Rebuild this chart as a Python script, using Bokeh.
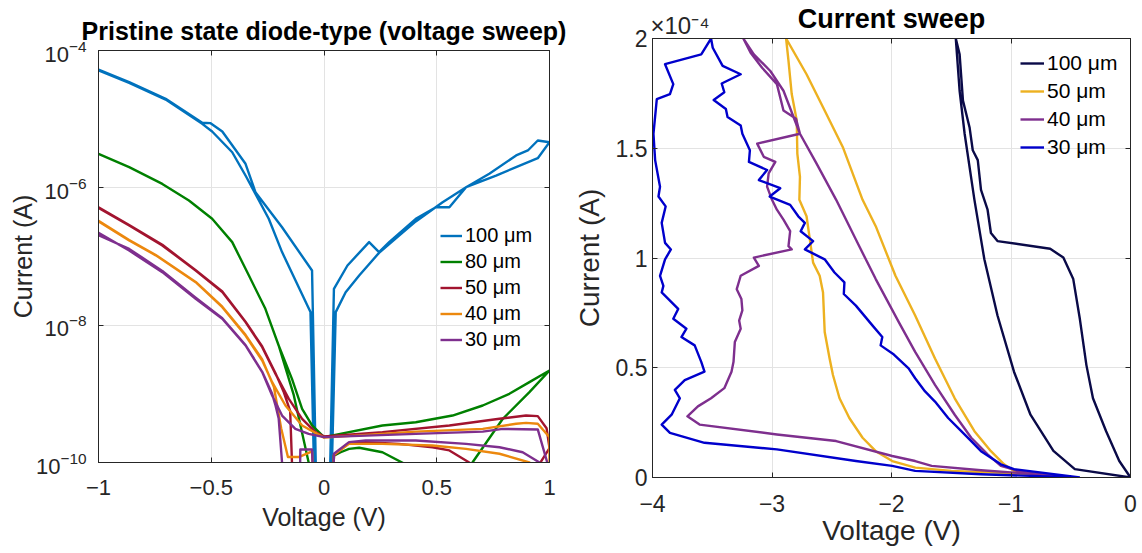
from bokeh.plotting import figure
from bokeh.layouts import row, column
from bokeh.models import (FixedTicker, LogAxis, LinearAxis, Legend, LegendItem,
                          CustomJSTickFormatter, Range1d)
from bokeh.embed import file_html
from bokeh.resources import INLINE

# ---------------- Left panel data (voltage sweep, log current) ----------------
v_100 = [-0.031, -0.060, -0.186, -0.245, -0.304, -0.348, -0.407, -0.496, -0.540, -0.702, -0.864, -1.0,
         -1.0, -0.864, -0.702, -0.540, -0.503, -0.451, -0.348, -0.304, -0.186, -0.053, -0.025,
         0.015, 0.044, 0.104, 0.2, 0.244, 0.289, 0.407, 0.496, 0.556, 0.63, 0.733, 0.852, 0.904, 0.948, 1.0,
         0.948, 0.852, 0.763, 0.63, 0.526, 0.407, 0.333, 0.244, 0.156, 0.096, 0.052, 0.02]
i_100 = [1e-12, 1.55e-8, 1.16e-7, 3.54e-7, 8.18e-7, 1.51e-6, 3.30e-6, 6.61e-6, 8.55e-6, 1.93e-5, 3.38e-5, 5.13e-5,
         5.28e-5, 3.46e-5, 1.98e-5, 8.85e-6, 8.75e-6, 6.61e-6, 2.24e-6, 8.65e-7, 2.67e-7, 6.25e-8, 1e-12,
         1e-12, 3.38e-8, 7.40e-8, 1.62e-7, 1.16e-7, 1.62e-7, 3.54e-7, 5.22e-7, 5.22e-7, 1.02e-6, 1.60e-6, 2.96e-6,
         3.50e-6, 4.89e-6, 4.62e-6,
         2.70e-6, 2.00e-6, 1.51e-6, 1.02e-6, 6.18e-7, 3.24e-7, 2.02e-7, 1.13e-7, 5.28e-8, 3.02e-8, 1.55e-8, 1e-12]

v_80 = [-0.034, -0.068, -0.134, -0.201, -0.260, -0.333, -0.407, -0.496, -0.599, -0.717, -0.864, -1.0,
        -0.864, -0.717, -0.599, -0.496, -0.407, -0.333, -0.260, -0.201, -0.142, -0.097, -0.053, 0.0,
        0.259, 0.407, 0.570, 0.704, 0.822, 0.911, 1.0,
        0.911, 0.793, 0.659, 0.6, 0.45, 0.37, 0.259, 0.156, 0.111, 0.074, 0.044, 0.03]
i_80 = [3.2e-11, 1.0e-10, 9.55e-10, 5.06e-9, 1.73e-8, 5.28e-8, 1.62e-7, 3.54e-7, 6.55e-7, 1.14e-6, 2.0e-6, 3.13e-6,
        2.0e-6, 1.14e-6, 6.55e-7, 3.54e-7, 1.62e-7, 5.28e-8, 1.73e-8, 5.06e-9, 1.65e-9, 6.05e-10, 3.46e-10, 2.34e-10,
        3.46e-10, 3.86e-10, 4.83e-10, 6.76e-10, 1.0e-9, 1.48e-9, 2.19e-9,
        1.06e-9, 4.33e-10, 1.01e-10, 4.0e-11, 5.0e-11, 9.1e-11, 1.41e-10, 1.64e-10, 1.58e-10, 1.41e-10, 1.26e-10, 1e-12]

v_50 = [-0.13, -0.142, -0.150, -0.178, -0.215, -0.274, -0.348, -0.451, -0.569, -0.717, -0.864, -1.0,
        -1.0, -0.864, -0.717, -0.569, -0.451, -0.348, -0.274, -0.215, -0.156, -0.097, -0.038, 0.0,
        0.259, 0.556, 0.778, 0.896, 0.948, 0.987, 1.0,
        0.95, 0.8, 0.7, 0.644, 0.556, 0.481, 0.333, 0.185, 0.104, 0.044, 0.03]
i_50 = [3e-11, 1.0e-10, 5.62e-10, 1.05e-9, 2.0e-9, 4.9e-9, 1.12e-8, 3.09e-8, 6.31e-8, 1.48e-7, 2.88e-7, 5.19e-7,
        5.12e-7, 2.82e-7, 1.45e-7, 6.25e-8, 3.03e-8, 1.11e-8, 4.79e-9, 1.95e-9, 8.45e-10, 4.33e-10, 2.77e-10, 2.40e-10,
        2.77e-10, 3.46e-10, 4.33e-10, 4.83e-10, 4.73e-10, 3.16e-10, 1.62e-10,
        8.9e-11, 3.2e-11, 5e-11, 1.0e-10, 1.50e-10, 1.67e-10, 1.87e-10, 1.98e-10, 1.87e-10, 1.26e-10, 1e-12]

v_40 = [-0.045, -0.053, -0.112, -0.160, -0.190, -0.222, -0.274, -0.348, -0.451, -0.569, -0.746, -0.864, -1.0,
        -1.0, -0.864, -0.746, -0.569, -0.451, -0.348, -0.274, -0.230, -0.171, -0.097, 0.0,
        0.407, 0.704, 0.852, 0.896, 0.948, 1.0, 1.0, 0.95,
        0.911, 0.778, 0.63, 0.481, 0.259, 0.111, 0.044, 0.03]
i_40 = [3e-11, 1.45e-10, 1.20e-10, 1.20e-10, 3.16e-10, 1.26e-9, 3.16e-9, 7.24e-9, 1.86e-8, 4.27e-8, 1.05e-7, 1.74e-7, 3.31e-7,
        3.24e-7, 1.71e-7, 1.04e-7, 4.23e-8, 1.83e-8, 7.08e-9, 3.05e-9, 1.48e-9, 6.76e-10, 3.46e-10, 2.30e-10,
        2.82e-10, 3.09e-10, 3.66e-10, 3.78e-10, 3.66e-10, 2.34e-10, 5e-11, 5e-11,
        1.0e-10, 1.34e-10, 1.58e-10, 1.77e-10, 1.87e-10, 1.87e-10, 1.29e-10, 1e-12]

v_30 = [-0.045, -0.053, -0.105, -0.108, -0.180, -0.186, -0.201, -0.215, -0.230, -0.274, -0.348, -0.451, -0.569,
        -0.717, -0.864, -1.0,
        -1.0, -0.864, -0.717, -0.569, -0.451, -0.348, -0.274, -0.230, -0.186, -0.127, -0.068, 0.0,
        0.407, 0.704, 0.793, 0.948, 0.99, 0.98,
        0.956, 0.881, 0.778, 0.63, 0.407, 0.185, 0.111, 0.044, 0.03]
i_30 = [3e-11, 1.55e-10, 1.55e-10, 3e-11, 3e-11, 1.0e-10, 4.37e-10, 6.76e-10, 1.0e-9, 2.09e-9, 5.13e-9, 1.26e-8, 2.51e-8,
        6.17e-8, 1.29e-7, 2.04e-7,
        2.21e-7, 1.22e-7, 5.92e-8, 2.42e-8, 1.24e-8, 5.06e-9, 2.07e-9, 9.46e-10, 4.83e-10, 3.09e-10, 2.61e-10, 2.34e-10,
        2.61e-10, 2.82e-10, 3.09e-10, 3.03e-10, 1.0e-10, 3e-11,
        1.0e-10, 1.41e-10, 1.67e-10, 1.87e-10, 2.09e-10, 2.09e-10, 1.98e-10, 1.34e-10, 1e-12]

left_labels = ["100 μm", "80 μm", "50 μm", "40 μm", "30 μm"]
left_colors = ["#0072BD", "#008000", "#A2142F", "#EC880E", "#7E2F8E"]
left_x_ticks = [-1, -0.5, 0, 0.5, 1]
left_y_ticks = [1e-10, 1e-8, 1e-6, 1e-4]

# ---------------- Right panel data (current sweep, linear current) ----------------
vc_100 = [0.0, -0.466, -0.645, -0.837, -0.975, -1.113, -1.223, -1.306, -1.388, -1.430, -1.462,
          -1.430, -1.402, -1.347, -1.320, -1.278, -1.251, -1.196, -1.168, -1.113, -0.672, -0.562, -0.479,
          -0.424, -0.369, -0.314, -0.204, -0.094, 0.0]
ic_100 = [0.0, 0.038e-4, 0.121e-4, 0.286e-4, 0.482e-4, 0.738e-4, 0.994e-4, 1.265e-4, 1.566e-4, 1.762e-4, 2.0e-4,
          1.928e-4, 1.717e-4, 1.596e-4, 1.491e-4, 1.446e-4, 1.310e-4, 1.220e-4, 1.114e-4, 1.077e-4, 1.042e-4,
          1.002e-4, 0.904e-4, 0.723e-4, 0.512e-4, 0.361e-4, 0.211e-4, 0.075e-4, 0.0]

vc_50 = [-0.617, -0.975, -1.058, -1.168, -1.306, -1.471, -1.636, -1.802, -1.967, -2.132, -2.242, -2.408,
         -2.573, -2.711, -2.882,
         -2.862, -2.835, -2.793, -2.788, -2.766, -2.771, -2.711, -2.683, -2.656, -2.601, -2.573, -2.559,
         -2.518, -2.490, -2.435, -2.353, -2.242, -2.132, -1.994, -1.80, -1.5, -1.03, -0.60]
ic_50 = [0.0, 0.030e-4, 0.060e-4, 0.120e-4, 0.211e-4, 0.361e-4, 0.542e-4, 0.738e-4, 0.919e-4, 1.145e-4, 1.265e-4,
         1.506e-4, 1.687e-4, 1.837e-4, 2.0e-4,
         1.898e-4, 1.747e-4, 1.627e-4, 1.476e-4, 1.370e-4, 1.265e-4, 1.190e-4, 1.084e-4, 0.979e-4, 0.919e-4,
         0.843e-4, 0.663e-4, 0.542e-4, 0.467e-4, 0.361e-4, 0.271e-4, 0.181e-4, 0.120e-4, 0.075e-4, 0.045e-4,
         0.030e-4, 0.020e-4, 0.0]

vc_40 = [-0.534, -0.920, -1.085, -1.196, -1.333, -1.471, -1.636, -1.802, -1.939, -2.132, -2.298, -2.463,
         -2.628, -2.766, -2.904, -3.014, -3.152, -3.240,
         -3.179, -3.083, -2.959, -2.904, -2.799, -2.766, -3.124, -3.069, -2.972, -3.028, -3.041, -3.000,
         -2.959, -2.904, -2.848, -2.862, -2.835, -3.152, -3.110, -3.262, -3.295, -3.256, -3.248, -3.275,
         -3.262, -3.311, -3.322, -3.339, -3.399, -3.510, -3.620, -3.708, -3.606, -2.959, -2.463, -1.994,
         -1.802, -1.664, -1.251, -0.700, -0.534]
ic_40 = [0.0, 0.027e-4, 0.053e-4, 0.105e-4, 0.181e-4, 0.286e-4, 0.422e-4, 0.572e-4, 0.708e-4, 0.904e-4,
         1.084e-4, 1.265e-4, 1.431e-4, 1.566e-4, 1.762e-4, 1.852e-4, 1.928e-4, 2.0e-4,
         1.935e-4, 1.867e-4, 1.792e-4, 1.672e-4, 1.634e-4, 1.566e-4, 1.521e-4, 1.461e-4, 1.438e-4, 1.386e-4,
         1.325e-4, 1.265e-4, 1.220e-4, 1.175e-4, 1.122e-4, 1.054e-4, 1.039e-4, 1.002e-4, 0.964e-4, 0.919e-4,
         0.858e-4, 0.813e-4, 0.761e-4, 0.715e-4, 0.678e-4, 0.617e-4, 0.527e-4, 0.482e-4, 0.407e-4, 0.361e-4,
         0.324e-4, 0.279e-4, 0.241e-4, 0.196e-4, 0.166e-4, 0.098e-4, 0.075e-4, 0.053e-4, 0.033e-4, 0.012e-4,
         0.003e-4]

vc_30 = [-0.424, -0.975, -1.085, -1.168, -1.251, -1.333, -1.416, -1.526, -1.636, -1.719, -1.802, -1.857,
         -1.980, -2.091, -2.077, -2.160, -2.298, -2.399, -2.394, -2.477, -2.559, -2.725, -2.656, -2.760,
         -2.725, -2.780, -2.848, -3.019, -2.931, -3.110, -3.041, -3.193, -3.185, -3.248, -3.262, -3.372,
         -3.386, -3.488, -3.399, -3.421, -3.262, -3.413, -3.496, -3.510,
         -3.592, -3.895, -3.826, -3.854, -3.964, -3.992, -3.978, -3.937, -3.950, -3.890, -3.923, -3.895,
         -3.846, -3.895, -3.937, -3.909, -3.923, -3.785, -3.826, -3.716, -3.758, -3.647, -3.592, -3.565,
         -3.730, -3.813, -3.771, -3.840, -3.923, -3.854, -3.565, -2.959, -2.298, -1.994, -1.802, -1.251,
         -0.424]
ic_30 = [0.0, 0.038e-4, 0.060e-4, 0.090e-4, 0.120e-4, 0.166e-4, 0.211e-4, 0.271e-4, 0.346e-4, 0.392e-4,
         0.452e-4, 0.497e-4, 0.560e-4, 0.602e-4, 0.640e-4, 0.693e-4, 0.783e-4, 0.836e-4, 0.889e-4, 0.934e-4,
         0.994e-4, 1.039e-4, 1.077e-4, 1.122e-4, 1.160e-4, 1.190e-4, 1.242e-4, 1.280e-4, 1.318e-4, 1.355e-4,
         1.401e-4, 1.438e-4, 1.491e-4, 1.566e-4, 1.604e-4, 1.642e-4, 1.679e-4, 1.720e-4, 1.755e-4, 1.795e-4,
         1.837e-4, 1.875e-4, 1.958e-4, 2.0e-4,
         1.928e-4, 1.883e-4, 1.792e-4, 1.747e-4, 1.724e-4, 1.566e-4, 1.446e-4, 1.325e-4, 1.280e-4, 1.235e-4,
         1.160e-4, 1.069e-4, 1.039e-4, 0.994e-4, 0.919e-4, 0.873e-4, 0.843e-4, 0.768e-4, 0.723e-4, 0.678e-4,
         0.640e-4, 0.602e-4, 0.527e-4, 0.482e-4, 0.444e-4, 0.399e-4, 0.361e-4, 0.286e-4, 0.241e-4, 0.203e-4,
         0.158e-4, 0.128e-4, 0.075e-4, 0.053e-4, 0.030e-4, 0.015e-4, 0.0]

right_labels = ["100 μm", "50 μm", "40 μm", "30 μm"]
right_colors = ["#0A0A48", "#EDB120", "#7E2F8E", "#0000CC"]
right_x_ticks = [-4, -3, -2, -1, 0]
right_y_ticks = [0, 0.5e-4, 1e-4, 1.5e-4, 2e-4]
right_exponent = "×10⁻⁴"
right_exponent_at = [-3.77]

FONT = "Liberation Sans"
AX = "#262626"
GRID = "#E3E3E3"


def style_axis(ax, size, standoff, label_size=None, label_standoff=None):
    ax.major_label_text_font = FONT
    ax.major_label_text_font_size = size
    ax.major_label_text_color = AX
    ax.major_label_standoff = standoff
    ax.axis_line_color = AX
    ax.major_tick_line_color = AX
    ax.major_tick_in = 5
    ax.major_tick_out = 0
    ax.minor_tick_line_color = None
    if label_size:
        ax.axis_label_text_font = FONT
        ax.axis_label_text_font_size = label_size
        ax.axis_label_text_font_style = "normal"
        ax.axis_label_text_color = AX
        ax.axis_label_standoff = label_standoff


def tick_only_axis(cls, ticks):
    a = cls(ticker=FixedTicker(ticks=ticks))
    a.major_label_text_font_size = "2px"
    a.major_label_text_color = None
    a.major_label_standoff = 0
    a.axis_line_color = AX
    a.major_tick_line_color = AX
    a.major_tick_in = 5
    a.major_tick_out = 0
    a.minor_tick_line_color = None
    return a


# ---------------- Left figure ----------------
p1 = figure(width=570, height=553, y_axis_type="log",
            x_range=Range1d(-1, 1), y_range=Range1d(1e-10, 1e-4),
            output_backend="svg", toolbar_location=None,
            min_border_left=98, min_border_right=21, min_border_top=50, min_border_bottom=91,
            title="Pristine state diode-type (voltage sweep)")
p1.title.align = "center"
p1.title.text_font = FONT
p1.title.text_font_size = "25px"
p1.title.text_font_style = "bold"
p1.title.text_color = "black"
p1.title.standoff = 11
p1.outline_line_color = AX
p1.xaxis.ticker = FixedTicker(ticks=left_x_ticks)
p1.yaxis.ticker = FixedTicker(ticks=left_y_ticks)
p1.xaxis.axis_label = "Voltage (V)"
p1.yaxis.axis_label = "Current (A)"
style_axis(p1.xaxis[0], "22px", 17, "25px", 5)
style_axis(p1.yaxis[0], "22px", 12, "25px", -4)
p1.xgrid.ticker = FixedTicker(ticks=left_x_ticks)
p1.ygrid.ticker = FixedTicker(ticks=left_y_ticks)
p1.xgrid.grid_line_color = GRID
p1.ygrid.grid_line_color = GRID
p1.add_layout(tick_only_axis(LinearAxis, left_x_ticks), "above")
p1.add_layout(tick_only_axis(LogAxis, left_y_ticks), "right")

left_series = [(v_100, i_100), (v_80, i_80), (v_50, i_50), (v_40, i_40), (v_30, i_30)]
items1 = []
for (vx, iy), lab, col in zip(left_series, left_labels, left_colors):
    r = p1.line(vx, iy, line_color=col, line_width=2.4, line_join="round")
    items1.append(LegendItem(label=lab, renderers=[r]))
leg1 = Legend(items=items1, location=(342, 111), padding=0, margin=0, spacing=3,
              glyph_width=22, glyph_height=23, label_height=23, label_standoff=3,
              label_text_font=FONT, label_text_font_size="20px", label_text_color="black",
              background_fill_alpha=0, border_line_alpha=0)
p1.add_layout(leg1)

# ---------------- Right figure ----------------
p2 = figure(width=572, height=553,
            x_range=Range1d(-4, 0), y_range=Range1d(0, 2e-4),
            output_backend="svg", toolbar_location=None,
            min_border_left=77, min_border_right=12, min_border_top=34, min_border_bottom=76)
p2.outline_line_color = AX
p2.xaxis.ticker = FixedTicker(ticks=right_x_ticks)
p2.yaxis.ticker = FixedTicker(ticks=right_y_ticks)
p2.yaxis.formatter = CustomJSTickFormatter(code="return (Math.round(tick * 1e5) / 10).toString();")
p2.xaxis.axis_label = "Voltage (V)"
p2.yaxis.axis_label = "Current (A)"
style_axis(p2.xaxis[0], "23px", 17, "28px", 0)
style_axis(p2.yaxis[0], "23px", 5, "28px", 8)
p2.xgrid.ticker = FixedTicker(ticks=right_x_ticks)
p2.ygrid.ticker = FixedTicker(ticks=right_y_ticks)
p2.xgrid.grid_line_color = GRID
p2.ygrid.grid_line_color = GRID
p2.add_layout(tick_only_axis(LinearAxis, right_x_ticks), "above")
p2.add_layout(tick_only_axis(LinearAxis, right_y_ticks), "right")

# top text row: exponent as a tick label, title as the axis label on the same row
top_axis = LinearAxis(ticker=FixedTicker(ticks=right_exponent_at),
                      formatter=CustomJSTickFormatter(code="return '%s';" % right_exponent))
top_axis.axis_line_color = None
top_axis.major_tick_line_color = None
top_axis.minor_tick_line_color = None
top_axis.major_tick_in = 0
top_axis.major_tick_out = 0
top_axis.major_label_standoff = 0
top_axis.major_label_text_font = FONT
top_axis.major_label_text_font_size = "24px"
top_axis.major_label_text_color = AX
top_axis.axis_label = "Current sweep"
top_axis.axis_label_text_font = FONT
top_axis.axis_label_text_font_size = "27px"
top_axis.axis_label_text_font_style = "bold"
top_axis.axis_label_text_color = "black"
top_axis.axis_label_standoff = -25
p2.add_layout(top_axis, "above")

right_series = [(vc_100, ic_100), (vc_50, ic_50), (vc_40, ic_40), (vc_30, ic_30)]
items2 = []
for (vx, iy), lab, col in zip(right_series, right_labels, right_colors):
    r = p2.line(vx, iy, line_color=col, line_width=2.4, line_join="round")
    items2.append(LegendItem(label=lab, renderers=[r]))
leg2 = Legend(items=items2, location=(368, 318), padding=0, margin=0, spacing=4,
              glyph_width=24, glyph_height=24, label_height=24, label_standoff=3,
              label_text_font=FONT, label_text_font_size="21px", label_text_color="black",
              background_fill_alpha=0, border_line_alpha=0)
p2.add_layout(leg2)

layout = row(column(p1), column(p2))
open("out.html", "w").write(file_html(layout, INLINE))
